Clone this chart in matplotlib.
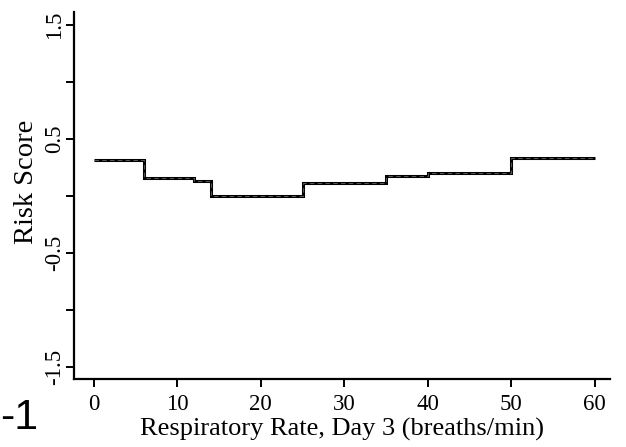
import matplotlib
matplotlib.use('Agg')
import matplotlib.pyplot as plt

# step edges (breaths/min) and risk score in each interval
edges = [0, 6, 12, 14, 25, 35, 40, 50, 60]
scores = [0.31, 0.15, 0.13, 0.0, 0.11, 0.17, 0.20, 0.33]

x_ticks = [0, 10, 20, 30, 40, 50, 60]
y_ticks = [-1.5, -0.5, 0.5, 1.5]
y_minor = [-1.0, 0.0, 1.0]

plt.rcParams['font.family'] = 'Liberation Serif'

fig = plt.figure(figsize=(6.26, 4.47), dpi=100)
ax = fig.add_axes([0.118, 0.152, 0.856, 0.821])

ax.stairs(scores, edges, baseline=None, color='black', linewidth=2.2)
ax.stairs(scores, edges, baseline=None, color='#555555', linewidth=0.8, linestyle=(0, (4, 3)))

ax.set_xlim(-2.4, 61.8)
ax.set_ylim(-1.61, 1.61)
ax.set_xticks(x_ticks)
ax.set_yticks(y_ticks)
ax.set_yticks(y_minor, minor=True)
ax.set_yticklabels([str(v) for v in y_ticks], rotation=90, va='center')

for s in ['top', 'right']:
    ax.spines[s].set_visible(False)
for s in ['left', 'bottom']:
    ax.spines[s].set_linewidth(1.6)

ax.tick_params(axis='both', which='both', direction='out', length=6, width=1.4, labelsize=16.5)
ax.tick_params(axis='y', pad=0)
ax.tick_params(axis='x', pad=5)

ax.set_xlabel('Respiratory Rate, Day 3 (breaths/min)', fontsize=19, va='top')
ax.xaxis.set_label_coords(0.5, -0.106)
ax.set_ylabel('Risk Score', fontsize=20.5)
ax.yaxis.set_label_coords(-0.066, 0.537)

fig.text(0.0, 1 - 418 / 447, '-1', fontsize=31, family='Liberation Sans',
         ha='left', va='center')

fig.savefig('out.png', dpi=100)
